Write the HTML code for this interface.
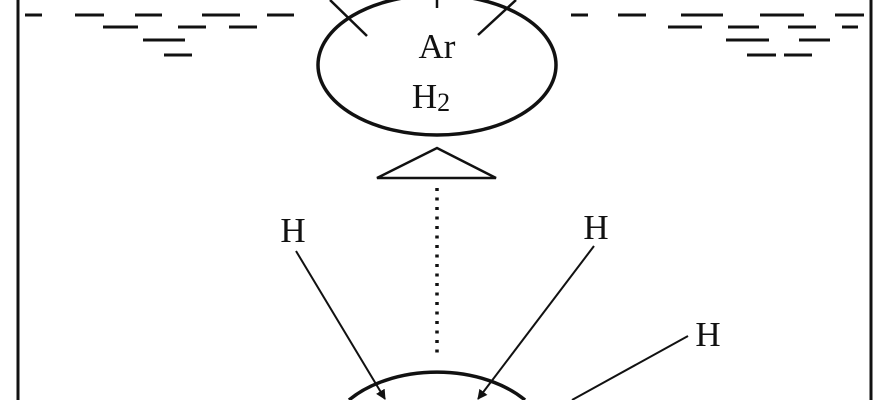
<!DOCTYPE html>
<html><head><style>
html,body{margin:0;padding:0;background:#fff;width:888px;height:400px;overflow:hidden}
svg{display:block;overflow:hidden}
svg text{font-family:"Liberation Serif",serif;fill:#111}
</style></head><body>
<svg width="888" height="400" viewBox="0 0 888 400" xmlns="http://www.w3.org/2000/svg">
<defs><marker id="a" markerWidth="10" markerHeight="10" refX="9" refY="5" orient="auto" markerUnits="userSpaceOnUse"><path d="M0,0 L10,5 L0,10 z" fill="#111"/></marker></defs>
<g stroke="#111" fill="none">
<line x1="18" y1="0" x2="18" y2="400" stroke-width="3"/>
<line x1="871" y1="0" x2="871" y2="400" stroke-width="3"/>
<g stroke-width="3">
<path d="M25 15h17M75 15h29M135 15h27M202 15h38M267 15h27M103 27h35M178 27h28M229 27h28M143 40h42M164 55h28"/>
<path d="M571 15h17M618 15h28M681 15h42M760 15h44M835 15h29M668 27h34M728 27h31M788 27h28M842 27h16M726 40h43M799 40h31M747 55h29M784 55h28"/>
</g>
<ellipse cx="437" cy="65" rx="119" ry="70" stroke-width="3.5"/>
<line x1="330" y1="0" x2="367" y2="36" stroke-width="2.5"/>
<line x1="478" y1="35" x2="516" y2="0" stroke-width="2.5"/>
<line x1="437" y1="0" x2="437" y2="8" stroke-width="2.5"/>
<polygon points="377,178 437,148 496,178" stroke-width="2.5"/>
<line x1="437" y1="188" x2="437" y2="358" stroke-width="3.5" stroke-dasharray="3,6.5"/>
<path d="M349,400 A112,73 0 0 1 525,400" stroke-width="3.5"/>
<line x1="296" y1="251" x2="385" y2="399" stroke-width="2" marker-end="url(#a)"/>
<line x1="594" y1="246" x2="478" y2="399" stroke-width="2" marker-end="url(#a)"/>
<line x1="688" y1="336" x2="572" y2="400" stroke-width="2"/>
</g>
<text x="437" y="58" font-size="35" text-anchor="middle">Ar</text>
<text x="431" y="108" font-size="35" text-anchor="middle">H<tspan font-size="26" dy="3">2</tspan></text>
<text x="293" y="242" font-size="35" text-anchor="middle">H</text>
<text x="596" y="239" font-size="35" text-anchor="middle">H</text>
<text x="708" y="346" font-size="35" text-anchor="middle">H</text>
</svg>
</body></html>
